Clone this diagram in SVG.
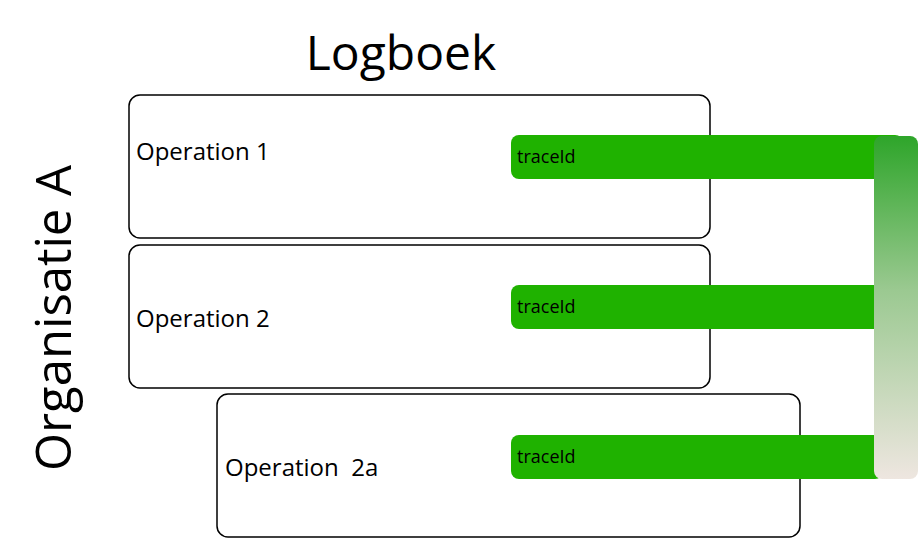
<svg xmlns="http://www.w3.org/2000/svg" width="919" height="539" viewBox="0 0 919 539">
<defs>
<style>
.box{fill:#ffffff;stroke:#000000;stroke-width:1.5}
.bar{fill:#1fb200}
.t{font-family:"Open Sans","Noto Sans","DejaVu Sans",sans-serif;fill:#000000}
.op{font-size:24px}
.tr{font-size:18px}
</style>
<linearGradient id="vg" x1="0" y1="0" x2="0" y2="1">
<stop offset="0" stop-color="#2ea52a"/>
<stop offset="0.45" stop-color="#9bc991"/>
<stop offset="1" stop-color="#eee6e0"/>
</linearGradient>
</defs>
<rect width="919" height="539" fill="#ffffff"/>
<text class="t" x="401" y="70" font-size="48" text-anchor="middle">Logboek</text>
<text class="t" font-size="49" text-anchor="middle" transform="translate(71,318) rotate(-90)">Organisatie A</text>
<g id="op1">
<rect class="box" x="129" y="95" width="581" height="143" rx="11"/>
<text class="t op" x="136" y="160">Operation 1</text>
</g>
<g id="op2">
<rect class="box" x="129" y="245" width="581" height="143" rx="11"/>
<text class="t op" x="136" y="327">Operation 2</text>
</g>
<g id="op2a">
<rect class="box" x="217" y="394" width="583" height="143" rx="11"/>
<text class="t op" x="225" y="476" xml:space="preserve">Operation  2a</text>
</g>
<g id="trace1">
<rect class="bar" x="511" y="135" width="392" height="44" rx="8"/>
<text class="t tr" x="517" y="163">traceId</text>
</g>
<g id="trace2">
<rect class="bar" x="511" y="285" width="372" height="44" rx="8"/>
<text class="t tr" x="517" y="313">traceId</text>
</g>
<g id="trace3">
<rect class="bar" x="511" y="435" width="372" height="44" rx="8"/>
<text class="t tr" x="517" y="463">traceId</text>
</g>
<g id="connectors">
<rect x="874" y="136" width="44" height="343" rx="8" fill="url(#vg)"/>
</g>
</svg>
